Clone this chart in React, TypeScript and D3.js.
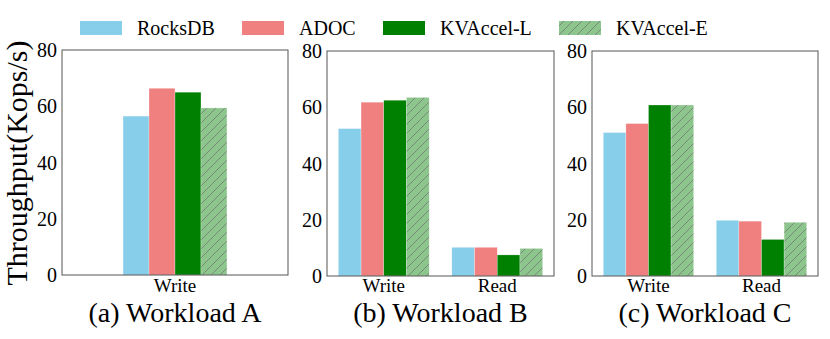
import React from "react";
import * as d3 from "d3";

// series / legend
const seriesNames = ["RocksDB", "ADOC", "KVAccel-L", "KVAccel-E"];
const seriesColors = ["#87CEEB", "#F08080", "#008000", "#8CC68C"];

// workload A
const catsA = ["Write"];
const rocksA = [56.5];
const adocA = [66.4];
const kvlA = [65.0];
const kveA = [59.4];

// workload B
const catsB = ["Write", "Read"];
const rocksB = [52.4, 10.2];
const adocB = [61.8, 10.2];
const kvlB = [62.5, 7.5];
const kveB = [63.5, 9.8];

// workload C
const catsC = ["Write", "Read"];
const rocksC = [51.0, 19.8];
const adocC = [54.2, 19.5];
const kvlC = [60.8, 13.0];
const kveC = [60.8, 19.1];

const yTicks = [0, 20, 40, 60, 80];
const titles = ["(a) Workload A", "(b) Workload B", "(c) Workload C"];

const TXT = "#000";
const fontStyle = { fontFamily: "'Times New Roman', 'Liberation Serif', Times, serif" };

const panels = [
  { cats: catsA, vals: [rocksA, adocA, kvlA, kveA], left: 62, right: 288, top: 50, bottom: 275, dom: [-0.87, 0.87] },
  { cats: catsB, vals: [rocksB, adocB, kvlB, kveB], left: 327, right: 554, top: 51, bottom: 276, dom: [-0.5, 1.5] },
  { cats: catsC, vals: [rocksC, adocC, kvlC, kveC], left: 592, right: 818, top: 51, bottom: 276, dom: [-0.5, 1.5] },
];

const barW = 0.2;
const fillOf = (i: number) => (i === 3 ? "url(#hatch)" : seriesColors[i]);

// legend text widths in 20px Times
const legendWidths = [78, 57, 92, 96];

function Legend() {
  let lx = 80;
  const items = seriesNames.map((name, i) => {
    const x0 = lx;
    lx = lx + 57 + legendWidths[i] + 27;
    return (
      <g key={name}>
        <rect x={x0} y={21} width={42} height={14} fill={fillOf(i)} />
        <text x={x0 + 57} y={35} fontSize={20} fill={TXT} style={fontStyle}>{name}</text>
      </g>
    );
  });
  return <g>{items}</g>;
}

function Panel({ p, title }: { p: typeof panels[number]; title: string }) {
  const x = d3.scaleLinear().domain(p.dom).range([p.left, p.right]);
  const y = d3.scaleLinear().domain([0, 80]).range([p.bottom, p.top]);
  return (
    <g>
      {p.vals.map((vals, si) =>
        vals.map((v, ci) => (
          <rect
            key={`${si}-${ci}`}
            x={x(ci + (si - 1.5) * barW - barW / 2)}
            width={x(barW) - x(0)}
            y={y(v)}
            height={y(0) - y(v)}
            fill={fillOf(si)}
            stroke="#fff"
            strokeOpacity={0.5}
            strokeWidth={0.5}
          />
        ))
      )}
      <rect x={p.left} y={p.top} width={p.right - p.left} height={p.bottom - p.top}
        fill="none" stroke="#555" strokeWidth={1} />
      {yTicks.map(t => (
        <text key={t} x={p.left - 5} y={y(t) + 7} textAnchor="end"
          fontSize={20} fill={TXT} style={fontStyle}>{t}</text>
      ))}
      {p.cats.map((c, i) => (
        <text key={c} x={x(i)} y={292} textAnchor="middle"
          fontSize={19} fill={TXT} style={fontStyle}>{c}</text>
      ))}
      <text x={(p.left + p.right) / 2} y={322} textAnchor="middle"
        fontSize={28} fill={TXT} style={fontStyle}>{title}</text>
    </g>
  );
}

export default function App() {
  return (
    <svg width={830} height={339} style={{ position: "absolute", left: 0, top: 0, display: "block", ...fontStyle }}>
      <defs>
        <pattern id="hatch" patternUnits="userSpaceOnUse" width={9} height={9}>
          <rect width={9} height={9} fill={seriesColors[3]} />
          <path d="M0,9 L9,0 M-2,2 L2,-2 M7,11 L11,7" stroke="#7a8a7a" strokeWidth={1} />
        </pattern>
      </defs>
      {panels.map((p, i) => (
        <Panel key={i} p={p} title={titles[i]} />
      ))}
      <text transform="translate(27,163) rotate(-90)" textAnchor="middle"
        fontSize={30} fill={TXT} style={fontStyle}>Throughput(Kops/s)</text>
      <Legend />
    </svg>
  );
}
